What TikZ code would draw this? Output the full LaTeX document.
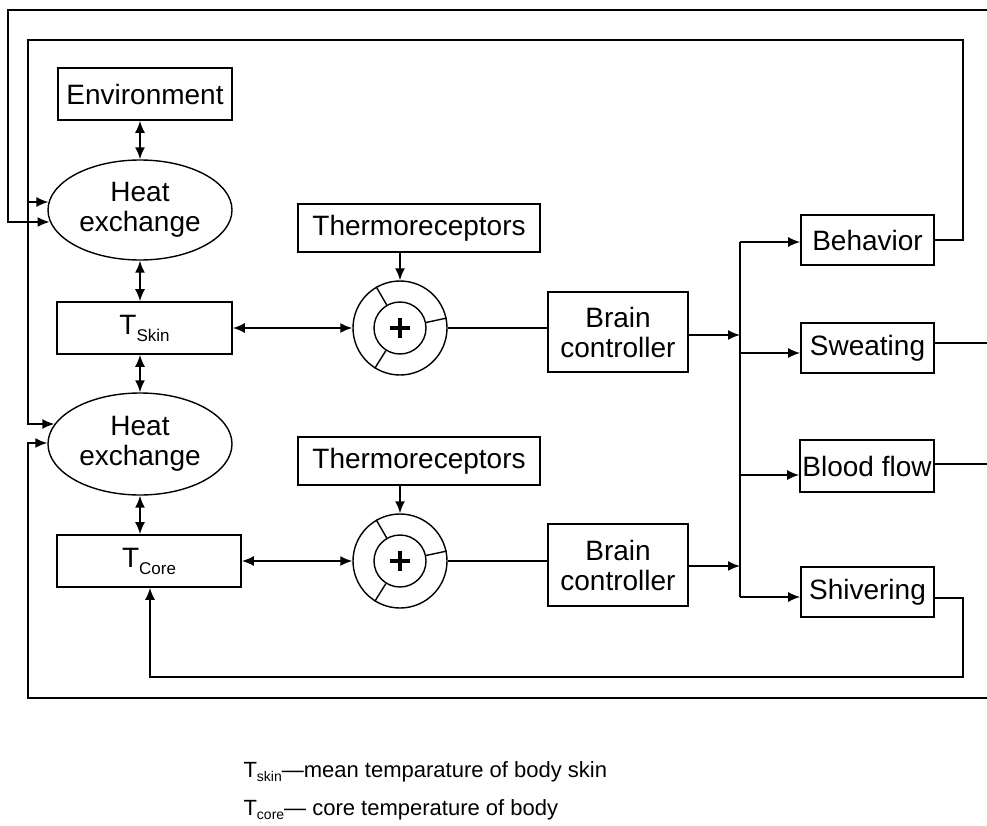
\documentclass[tikz,border=0pt]{standalone}
\usepackage{fontspec}
\setmainfont{Liberation Sans}
\usetikzlibrary{arrows.meta,shapes.geometric,calc}
% temperature symbol with a lowered subscript
\newcommand\Tlow[3]{T\raisebox{-#1pt}{\fontsize{#2}{#2}\selectfont #3}}

\begin{document}
\begin{tikzpicture}[x=1pt,y=-1pt,
  every node/.style={font=\fontsize{28}{30}\selectfont, align=center},
  box/.style={draw, line width=1.6pt, inner sep=0pt},
  ell/.style={draw, ellipse, line width=1.4pt, inner sep=0pt},
  ring/.style={draw, circle, line width=1.4pt, inner sep=0pt},
  conn/.style={line width=1.7pt},
  tip/.tip={Latex[length=12pt,width=10pt]},
  arr/.style={conn, -tip},
  darr/.style={conn, tip-tip},
  legend/.style={anchor=base west, align=left, font=\fontsize{22}{25}\selectfont}]

\useasboundingbox (0,0) rectangle (987,826);

% ---------- left column ----------
\node[box, minimum width=174pt, minimum height=52pt] (env) at (145,94) {Environment};
\node[ell, minimum width=184pt, minimum height=100pt] (he1) at (140,210) {Heat\\exchange};
\node[box, minimum width=175pt, minimum height=52pt] (tskin) at (144.5,328) {\Tlow{7}{17}{Skin}};
\node[ell, minimum width=184pt, minimum height=102pt] (he2) at (140,444) {Heat\\exchange};
\node[box, minimum width=184pt, minimum height=52pt] (tcore) at (149,561) {\Tlow{7}{17}{Core}};

% ---------- comparators ----------
\node[box, minimum width=242pt, minimum height=48pt] (th1) at (419,228) {Thermoreceptors};
\node[box, minimum width=242pt, minimum height=48pt] (th2) at (419,461) {Thermoreceptors};

\node[ring, minimum size=94pt] (s1) at (400,328) {};
\node[ring, minimum size=52pt] (s1i) at (400,328) {};
\node[ring, minimum size=94pt] (s2) at (400,561) {};
\node[ring, minimum size=52pt] (s2i) at (400,561) {};

\foreach \s in {s1,s2}{
  \draw[line width=4.5pt] ($(\s)+(-10,0)$) -- ($(\s)+(10,0)$);
  \draw[line width=4.5pt] ($(\s)+(0,-10)$) -- ($(\s)+(0,10)$);
  \foreach \a in {120,238,12}
    \draw[line width=1.4pt] (\s i.\a) -- (\s.\a);
}

% ---------- controllers and effectors ----------
\node[box, minimum width=140pt, minimum height=80pt] (bc1) at (618,332) {Brain\\controller};
\node[box, minimum width=140pt, minimum height=82pt] (bc2) at (618,565) {Brain\\controller};

\node[box, minimum width=133pt, minimum height=50pt] (beh) at (867.5,240) {Behavior};
\node[box, minimum width=133pt, minimum height=50pt] (swt) at (867.5,348) {Sweating};
\node[box, minimum width=134pt, minimum height=52pt] (bfl) at (867,466) {Blood flow};
\node[box, minimum width=133pt, minimum height=50pt] (shv) at (867.5,592) {Shivering};

% ---------- vertical links in the left column ----------
\draw[darr] (env.south -| he1.north) -- (he1.north);
\draw[darr] (he1.south) -- (he1.south |- tskin.north);
\draw[darr] (tskin.south -| he2.north) -- (he2.north);
\draw[darr] (he2.south) -- (he2.south |- tcore.north);

% ---------- sensing paths ----------
\draw[darr] (tskin.east) -- (s1.west);
\draw[darr] (tcore.east) -- (s2.west);
\draw[arr] (th1.south -| s1.north) -- (s1.north);
\draw[arr] (th2.south -| s2.north) -- (s2.north);
\draw[conn] (s1.east) -- (s1.east -| bc1.west);
\draw[conn] (s2.east) -- (s2.east -| bc2.west);

% ---------- distribution bus ----------
\coordinate (j1) at (740,335);
\coordinate (j2) at (740,566);
\coordinate (b1) at (740,242);
\coordinate (b2) at (740,353);
\coordinate (b3) at (740,475);
\coordinate (b4) at (740,597);
\draw[conn] (b1) -- (b4);
\draw[arr] (j1 -| bc1.east) -- (j1);
\draw[arr] (j2 -| bc2.east) -- (j2);
\draw[arr] (b1) -- (b1 -| beh.west);
\draw[arr] (b2) -- (b2 -| swt.west);
\draw[arr] (b3) -- (b3 -| bfl.west);
\draw[arr] (b4) -- (b4 -| shv.west);

% ---------- inner feedback loop (behavior) ----------
\coordinate (iTR) at (963,40);
\coordinate (iTL) at (28,40);
\coordinate (iH1) at (28,202);
\coordinate (iH2) at (28,424);
\draw[arr] (beh.east) -| (iTR) -- (iTL) -- (iH2) -- (iH2 -| he2.167);
\draw[arr] (iH1) -- (iH1 -| he1.175);

% ---------- shivering loop back to core ----------
\coordinate (shR) at (963,598);
\coordinate (shRB) at (963,677);
\coordinate (shLB) at (150,677);
\draw[arr] (shR -| shv.east) -- (shR) -- (shRB) -- (shLB) -- (shLB |- tcore.south);

% ---------- outer feedback loop ----------
\coordinate (oTR) at (987,10);
\coordinate (oTL) at (8,10);
\coordinate (oH1) at (8,222);
\draw[arr] (oTR) -- (oTL) -- (oH1) -- (oH1 -| he1.187);
\coordinate (oBR) at (987,698);
\coordinate (oBL) at (28,698);
\coordinate (oH2) at (28,443);
\draw[arr] (oBR) -- (oBL) -- (oH2) -- (oH2 -| he2.west);
\coordinate (sR) at (987,343);
\coordinate (fR) at (987,464);
\draw[conn] (sR -| swt.east) -- (sR);
\draw[conn] (fR -| bfl.east) -- (fR);

% ---------- legend ----------
\node[legend] (leg1) at (240,777) {\Tlow{4}{14}{skin}—mean temparature of body skin};
\node[legend] (leg2) at (240,815) {\Tlow{4}{14}{core}— core temperature of body};

\end{tikzpicture}
\end{document}
